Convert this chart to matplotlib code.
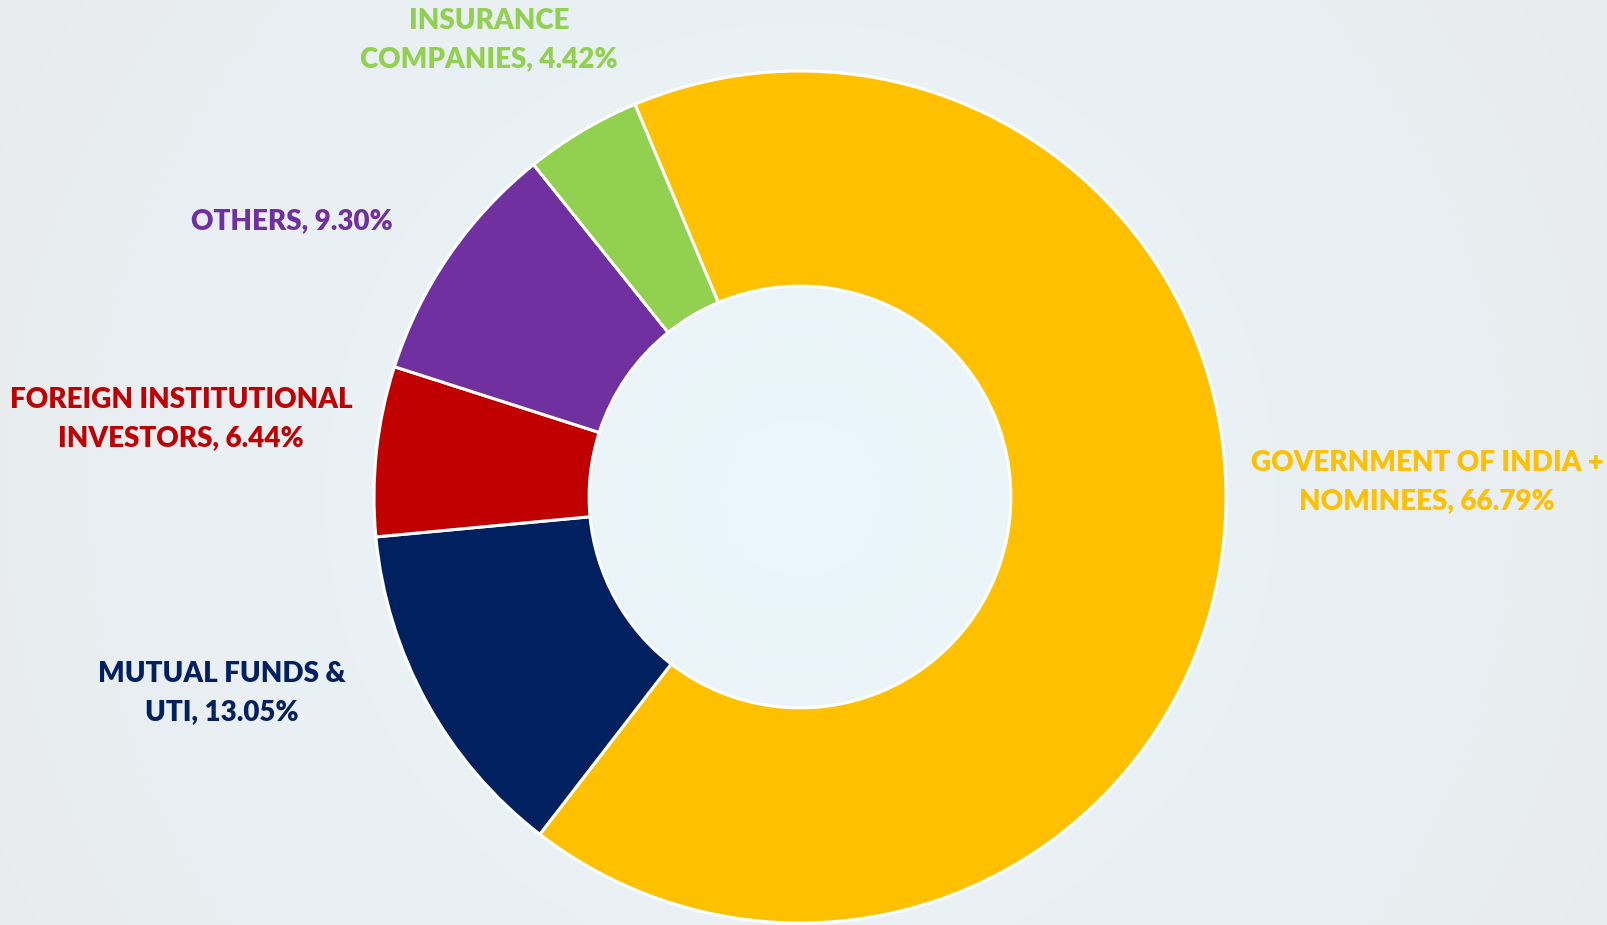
import numpy as np
import matplotlib.pyplot as plt
from matplotlib.colors import to_rgb

plt.rcParams["font.family"] = ["Lato", "DejaVu Sans"]

# shareholding pattern, clockwise from the government slice
categories = ["GOVERNMENT OF INDIA +\nNOMINEES", "MUTUAL FUNDS &\nUTI",
              "FOREIGN INSTITUTIONAL\nINVESTORS", "OTHERS", "INSURANCE\nCOMPANIES"]
shares = [66.79, 13.05, 6.44, 9.30, 4.42]
colors = ["#FFC000", "#002060", "#C00000", "#7030A0", "#92D050"]

# label centres in pixel coords (x, y from top)
label_pos = [(1427, 482), (222, 693), (181, 419), (292, 221), (489, 40)]

W, H = 1607, 925
cx, cy, R = 800, 497, 426

fig = plt.figure(figsize=(W / 100, H / 100), dpi=100)
ax = fig.add_axes([0, 0, 1, 1])

# radial background gradient
yy, xx = np.mgrid[0:H, 0:W]
d = np.clip(np.hypot(xx - cx, yy - cy) / 950.0, 0, 1)[..., None]
c0 = np.array(to_rgb("#EBF7FD"))
c1 = np.array(to_rgb("#E8EBED"))
bg = c0 * (1 - d) + c1 * d
ax.imshow(bg, extent=(0, W, 0, H), origin="upper", zorder=0)

ax.pie(shares, colors=colors, startangle=112.8, counterclock=False,
       center=(cx, H - cy), radius=R, frame=True,
       wedgeprops=dict(width=R * 0.505, edgecolor="white", linewidth=2.2))
ax.set_xlim(0, W)
ax.set_ylim(0, H)
ax.set_aspect("equal")
ax.axis("off")

for cat, val, col, (lx, ly) in zip(categories, shares, colors, label_pos):
    ax.text(lx, H - ly, f"{cat}, {val:.2f}%", color=col, fontsize=20,
            fontweight="heavy", ha="center", va="center", linespacing=1.6,
            zorder=5)

fig.savefig("out.png", dpi=100)
